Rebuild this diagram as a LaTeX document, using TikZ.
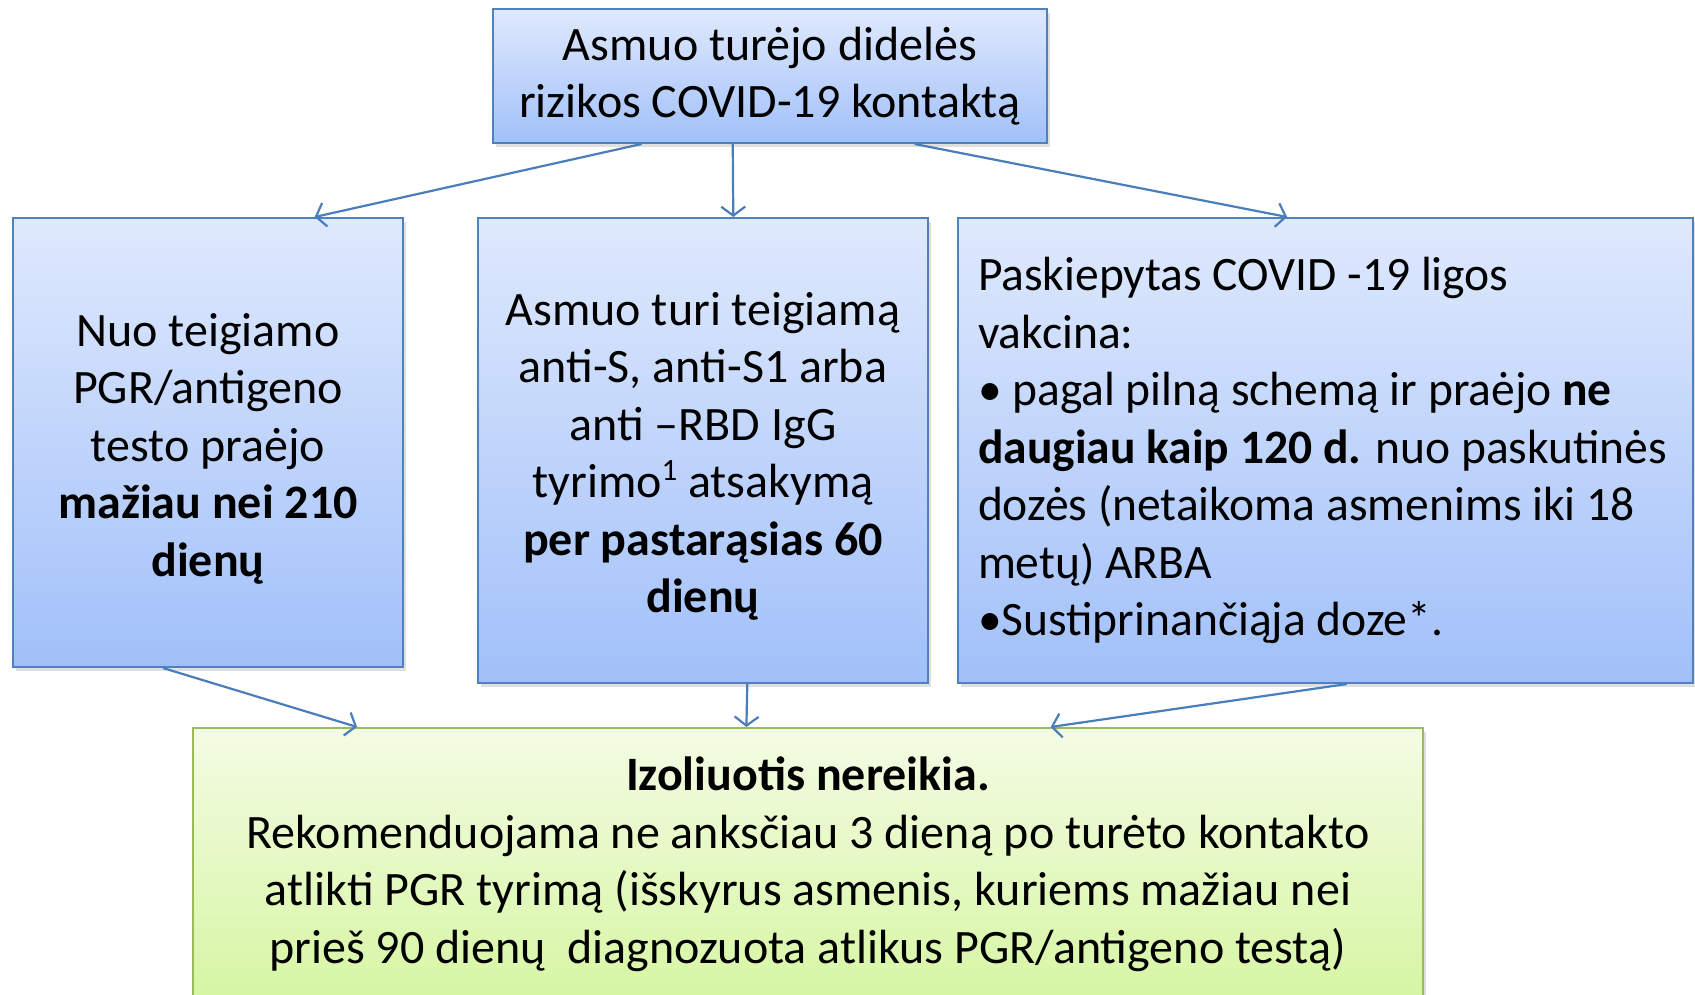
\documentclass[tikz,border=0pt]{standalone}
\usepackage{fontspec}
\setmainfont{Carlito}
\newfontfamily\narrowcal{Carlito}[FakeStretch=0.99]
\usetikzlibrary{arrows.meta,calc,shadows}
\definecolor{bluetop}{RGB}{223,233,253}
\definecolor{bluebot}{RGB}{161,192,249}
\definecolor{boxblue}{RGB}{79,129,189}
\definecolor{arrowblue}{RGB}{74,126,187}
\definecolor{greentop}{RGB}{244,251,228}
\definecolor{greenbot}{RGB}{214,246,163}
\definecolor{greenline}{RGB}{155,187,89}
\begin{document}
\begin{tikzpicture}[x=1pt,y=-1pt,
  shadowed/.style={drop shadow={shadow xshift=3pt,shadow yshift=-4pt,opacity=0.25}},
  bluebox/.style={draw=boxblue,line width=2pt,top color=bluetop,bottom color=bluebot,shadowed,
    align=center,font=\fontsize{48}{57.5}\selectfont,inner sep=0pt,anchor=north west},
  greenbox/.style={draw=greenline,line width=2pt,top color=greentop,bottom color=greenbot,shadowed,
    align=center,font=\fontsize{48}{57.5}\selectfont,inner sep=0pt,anchor=north west},
  conn/.style={draw=arrowblue,line width=2.2pt,-{Straight Barb[length=9pt,width=24pt,line width=2.2pt]}}
]
\useasboundingbox (0,0) rectangle (1695,995);
\clip (0,0) rectangle (1695,995);

\node[bluebox,minimum width=554pt,minimum height=134pt] (top) at (492,8)
  {Asmuo turėjo didelės\\rizikos COVID-19 kontaktą};

\node[bluebox,minimum width=390pt,minimum height=449pt] (left) at (12,217)
  {\rule{0pt}{45pt}Nuo teigiamo\\PGR/antigeno\\testo praėjo\\\textbf{mažiau nei 210}\\\textbf{dienų}};

\node[bluebox,minimum width=450pt,minimum height=465pt] (mid) at (477,217)
  {\rule{0pt}{45pt}Asmuo turi teigiamą\\anti-S, anti-S1 arba\\anti –RBD IgG\\tyrimo\raisebox{17pt}{\fontsize{31}{31}\selectfont 1} atsakymą\\\textbf{per pastarąsias 60}\\\textbf{dienų}};

\node[bluebox,align=flush left,text width=695pt,inner xsep=20pt,minimum height=465pt,
  font=\narrowcal\fontsize{48}{57.5}\selectfont] (right) at (957,217)
  {Paskiepytas COVID -19 ligos\\vakcina:\\• pagal pilną schemą ir praėjo \textbf{ne}\\\textbf{daugiau kaip 120 d.} nuo paskutinės\\dozės (netaikoma asmenims iki 18\\metų) ARBA\\•Sustiprinančiąja doze*.};

\node[greenbox,minimum width=1230pt,minimum height=272pt] (bottom) at (192,727)
  {\textbf{Izoliuotis nereikia.}\\Rekomenduojama ne anksčiau 3 dieną po turėto kontakto\\atlikti PGR tyrimą (išskyrus asmenis, kuriems mažiau nei\\prieš 90 dienų\ \ diagnozuota atlikus PGR/antigeno testą)};

\draw[conn] ($(top.south west)!0.269!(top.south east)$) -- ($(left.north west)!0.772!(left.north east)$);
\draw[conn] ($(top.south west)!0.433!(top.south east)$) -- ($(mid.north west)!0.567!(mid.north east)$);
\draw[conn] ($(top.south west)!0.76!(top.south east)$) -- ($(right.north west)!0.448!(right.north east)$);
\draw[conn] ($(left.south west)!0.385!(left.south east)$) -- ($(bottom.north west)!0.134!(bottom.north east)$);
\draw[conn] ($(mid.south west)!0.598!(mid.south east)$) -- ($(bottom.north west)!0.45!(bottom.north east)$);
\draw[conn] ($(right.south west)!0.529!(right.south east)$) -- ($(bottom.north west)!0.697!(bottom.north east)$);
\end{tikzpicture}
\end{document}
